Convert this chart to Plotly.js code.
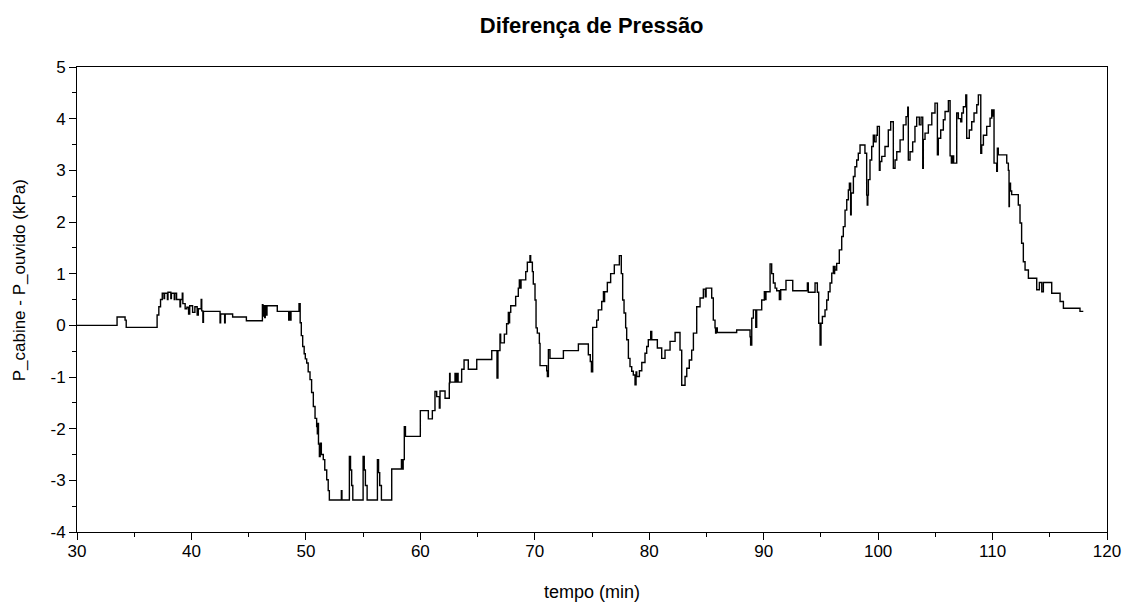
<!DOCTYPE html>
<html>
<head>
<meta charset="utf-8">
<script src="https://cdn.plot.ly/plotly-3.0.1.min.js"></script>
<style>
  html, body { margin: 0; padding: 0; background: #fff; }
  #chart { width: 1127px; height: 602px; }
</style>
</head>
<body>
<div id="chart"></div>
<script>
// Time (min) at each step change of the pressure difference
const tempo = [
  30, 33.5, 34.2, 34.3, 37.0, 37.15, 37.3, 37.45, 37.6, 37.65, 37.9, 37.95, 38.2, 38.25, 38.5, 38.55, 38.7,
  39.0, 39.05, 39.2, 39.25, 39.45, 39.6, 39.75, 39.85, 40.1, 40.3, 40.5, 40.6, 40.85, 40.9, 41.0, 41.05,
  42.5, 42.55, 42.9, 42.95, 43.6, 44.8, 46.2, 46.25, 46.3, 46.4, 46.45, 46.55, 46.6, 47.5, 48.5, 48.55,
  48.65, 48.7, 49.4, 49.5, 49.6, 49.72, 49.85, 49.95, 50.07, 50.2, 50.36, 50.5, 50.65, 50.8, 50.94, 51.0,
  51.05, 51.1, 51.18, 51.25, 51.35, 51.52, 51.65, 51.82, 51.95, 52.05, 53.1, 53.15, 53.8, 53.9, 54.0, 54.1,
  55.0, 55.1, 55.2, 55.35, 56.25, 56.35, 56.45, 56.6, 57.5, 58.35, 58.45, 58.5, 58.6, 58.7, 60.0, 60.7,
  61.05, 61.28, 61.43, 61.66, 61.72, 62.16, 62.53, 62.56, 62.6, 63.03, 63.12, 63.2, 63.3, 63.61, 63.82,
  64.19, 64.93, 66.24, 66.7, 66.78, 66.96, 67.02, 67.34, 67.54, 67.69, 67.75, 67.8, 67.9, 68.33, 68.56,
  68.65, 68.7, 68.8, 69.21, 69.35, 69.58, 69.64, 69.79, 69.87, 70.02, 70.11, 70.22, 70.4, 70.46, 71.04,
  71.1, 71.19, 71.33, 72.5, 73.81, 74.68, 74.85, 74.95, 75.06, 75.41, 75.55, 75.85, 76.0, 76.05, 76.1,
  76.34, 76.63, 76.95, 77.39, 77.56, 77.68, 77.8, 77.94, 78.03, 78.18, 78.32, 78.47, 78.61, 78.76, 78.85,
  78.91, 79.14, 79.35, 79.63, 79.78, 79.92, 80.13, 80.22, 80.71, 81.09, 81.38, 81.82, 82.26, 82.69, 82.84,
  83.13, 83.28, 83.5, 83.71, 83.86, 84.15, 84.44, 84.73, 84.9, 84.97, 85.46, 85.6, 85.75, 85.8, 85.85,
  85.95, 87.64, 88.81, 88.86, 88.96, 89.1, 89.31, 89.39, 89.83, 90.06, 90.12, 90.2, 90.56, 90.7, 90.85,
  91.0, 91.14, 91.37, 91.49, 91.95, 92.54, 93.82, 93.9, 94.49, 94.69, 94.81, 94.93, 95.01, 95.13, 95.36,
  95.51, 95.65, 95.8, 95.95, 96.09, 96.15, 96.2, 96.24, 96.38, 96.61, 96.82, 96.96, 97.11, 97.26, 97.4,
  97.49, 97.6, 97.65, 97.84, 97.98, 98.13, 98.27, 98.42, 98.85, 99.0, 99.05, 99.1, 99.15, 99.29, 99.44,
  99.58, 99.67, 99.82, 99.93, 100.11, 100.17, 100.32, 100.6, 100.89, 101.1, 101.33, 101.48, 101.63,
  101.92, 102.2, 102.44, 102.59, 102.64, 102.79, 103.02, 103.22, 103.37, 103.6, 103.75, 103.9, 103.95,
  104.1, 104.39, 104.69, 104.97, 105.18, 105.26, 105.47, 105.7, 105.85, 106.14, 106.29, 106.4, 106.5,
  106.6, 106.87, 107.01, 107.22, 107.31, 107.45, 107.66, 107.74, 107.97, 108.18, 108.38, 108.62, 108.76,
  108.97, 109.05, 109.2, 109.49, 109.78, 109.93, 110.0, 110.05, 110.13, 110.36, 110.42, 110.5, 111.24,
  111.38, 111.44, 111.47, 111.52, 111.57, 111.67, 112.25, 112.4, 112.54, 112.69, 112.84, 113.13, 113.86,
  114.09, 114.3, 114.44, 115.17, 115.9, 116.19, 117.64, 117.93
];

// P_cabine - P_ouvido (kPa) held from each time above until the next
const deltaP = [
  0, 0.16, 0.1, -0.04, 0.2, 0.36, 0.5, 0.62, 0.52, 0.62, 0.5, 0.64, 0.52, 0.62, 0.5, 0.62, 0.5,
  0.36, 0.5, 0.62, 0.42, 0.32, 0.35, 0.22, 0.38, 0.25, 0.36, 0.2, 0.32, 0.5, 0.28, 0.06, 0.27,
  0.05, 0.22, 0.05, 0.22, 0.16, 0.09, 0.4, 0.18, 0.38, 0.15, 0.38, 0.2, 0.38, 0.27, 0.1, 0.27,
  0.1, 0.27, 0.42, 0.05, -0.2, -0.41, -0.55, -0.65, -0.73, -0.9, -1.05, -1.3, -1.57, -1.8, -1.96, -2.1,
  -1.9, -2.3, -2.54, -2.28, -2.5, -2.6, -2.8, -2.99, -3.2, -3.38, -3.2, -3.38, -2.54, -2.8, -3.1, -3.38,
  -2.54, -2.8, -3.1, -3.38, -2.6, -2.85, -3.1, -3.38, -2.78, -2.6, -2.78, -2.6, -1.96, -2.15, -1.65, -1.81,
  -1.65, -1.28, -1.38, -1.6, -1.27, -1.41, -1.12, -0.93, -1.1, -0.93, -1.1, -0.93, -1.1, -0.85, -0.67,
  -0.85, -0.66, -0.49, -1.02, -0.49, -0.17, -0.34, -0.17, 0.03, 0.25, 0.05, 0.25, 0.38, 0.56, 0.72,
  0.88, 0.72, 0.88, 1.04, 1.22, 1.35, 1.22, 1.04, 0.8, 0.49, -0.05, -0.15, -0.35, -0.78, -0.88,
  -0.99, -0.47, -0.64, -0.49, -0.36, -0.57, -0.7, -0.9, -0.04, 0.1, 0.3, 0.46, 0.65, 0.46, 0.65,
  0.83, 1.0, 1.17, 1.35, 1.0, 0.49, 0.24, -0.05, -0.28, -0.64, -0.8, -0.89, -0.96, -1.15, -0.9,
  -0.99, -0.88, -0.72, -0.54, -0.41, -0.28, -0.12, -0.28, -0.44, -0.64, -0.48, -0.31, -0.14, -0.48, -1.16,
  -0.99, -0.83, -0.67, -0.48, -0.15, 0.36, 0.53, 0.7, 0.55, 0.72, 0.53, 0.1, -0.05, -0.15, -0.05,
  -0.14, -0.09, -0.22, -0.38, 0.14, 0.3, -0.04, 0.3, 0.49, 0.65, 0.5, 0.65, 1.19, 1.0, 0.82,
  0.72, 0.67, 0.5, 0.69, 0.87, 0.67, 0.82, 0.64, 0.82, 0.64, 0.04, -0.38, 0.04, 0.17, 0.3,
  0.49, 0.65, 0.82, 1.01, 1.14, 1.0, 1.14, 1.07, 1.2, 1.46, 1.72, 1.91, 2.23, 2.43, 2.62,
  2.75, 2.14, 2.56, 2.88, 3.07, 3.2, 3.33, 3.49, 3.33, 2.52, 2.33, 2.52, 2.82, 3.2, 3.46,
  3.68, 3.55, 3.68, 3.85, 3.0, 3.17, 3.27, 3.46, 3.78, 3.94, 3.04, 3.2, 3.36,
  3.59, 3.88, 4.04, 4.22, 3.2, 3.36, 3.55, 3.85, 4.03, 3.88, 4.03, 3.04, 3.6,
  3.72, 3.88, 4.11, 4.3, 3.3, 3.62, 3.78, 3.98, 4.14, 4.35, 3.28, 3.14, 3.28,
  3.14, 4.11, 4.0, 3.94, 4.11, 4.23, 4.46, 3.62, 3.78, 3.94, 4.11, 4.27, 4.46,
  3.33, 3.49, 3.68, 3.85, 4.01, 4.17, 4.05, 4.17, 3.14, 2.98, 3.43, 3.3, 3.14,
  3.0, 2.3, 2.6, 2.75, 2.6, 2.53, 2.33, 1.98, 1.59, 1.23, 1.07, 0.91, 0.69,
  0.83, 0.65, 0.83, 0.62, 0.46, 0.33, 0.27, 0.27
];

const xTicks = [30, 40, 50, 60, 70, 80, 90, 100, 110, 120];
const yTicks = [-4, -3, -2, -1, 0, 1, 2, 3, 4, 5];

const font = "Liberation Sans, Arial, sans-serif";
const narrow = "Liberation Sans Narrow, Arial Narrow, Liberation Sans, sans-serif";

const trace = {
  x: tempo,
  y: deltaP,
  type: "scatter",
  mode: "lines",
  line: { shape: "hv", color: "#000000", width: 1.4 },
  hoverinfo: "x+y"
};

const axisCommon = {
  showgrid: false,
  zeroline: false,
  showline: true,
  linecolor: "#000000",
  linewidth: 1,
  mirror: true,
  ticks: "outside",
  ticklen: 7,
  tickwidth: 1,
  tickcolor: "#000000",
  tickfont: { family: narrow, size: 17, color: "#000000" },
  automargin: false
};

const layout = {
  width: 1127,
  height: 602,
  paper_bgcolor: "#ffffff",
  plot_bgcolor: "#ffffff",
  margin: { l: 77, r: 20, t: 67, b: 70 },
  showlegend: false,
  title: {
    text: "<b>Diferença de Pressão</b>",
    font: { family: font, size: 22, color: "#000000" },
    x: 0.525,
    xanchor: "center",
    y: 0.958,
    yref: "container",
    yanchor: "middle"
  },
  xaxis: Object.assign({}, axisCommon, {
    range: [30, 120],
    tickvals: xTicks,
    ticktext: xTicks.map(String),
    ticklabelstandoff: -3,
    minor: { dtick: 5, tick0: 30, ticks: "outside", ticklen: 4, tickcolor: "#000000" },
    title: { text: "tempo (min)", font: { family: font, size: 18, color: "#000000" }, standoff: 25 }
  }),
  yaxis: Object.assign({}, axisCommon, {
    range: [-4, 5],
    tickvals: yTicks,
    ticktext: yTicks.map(String),
    minor: { dtick: 0.5, tick0: 0, ticks: "outside", ticklen: 4, tickcolor: "#000000" }
  }),
  annotations: [{
    text: "P_cabine - P_ouvido (kPa)",
    textangle: -90,
    xref: "paper",
    yref: "paper",
    x: -0.055,
    y: 0.542,
    xanchor: "center",
    yanchor: "middle",
    showarrow: false,
    font: { family: font, size: 17, color: "#000000" }
  }]
};

Plotly.newPlot("chart", [trace], layout, { displayModeBar: false, responsive: false });
</script>
</body>
</html>
